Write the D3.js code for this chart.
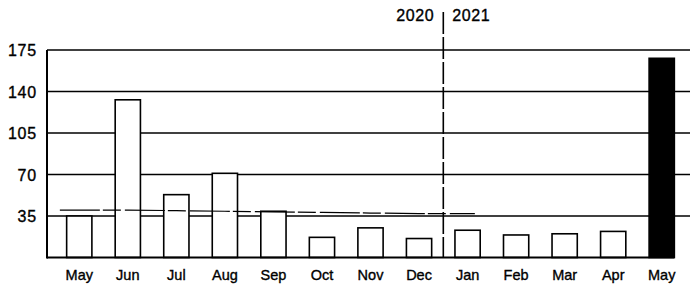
<!DOCTYPE html>
<html>
<head>
<meta charset="utf-8">
<script src="https://cdn.jsdelivr.net/npm/d3@7/dist/d3.min.js"></script>
<style>
  body { margin: 0; background: #fff; }
  svg { display: block; }
  text { font-family: "Liberation Sans", Arial, sans-serif; fill: #000; stroke: #000; stroke-width: 0.35px; }
</style>
</head>
<body>
<div id="chart"></div>
<script>
// monthly values, May 2020 .. May 2021
const months = ['May', 'Jun', 'Jul', 'Aug', 'Sep', 'Oct', 'Nov', 'Dec', 'Jan', 'Feb', 'Mar', 'Apr', 'May '];
const values = [35, 133, 53, 71, 39, 17, 25, 16, 23, 19, 20, 22, 168];
// thin trend line running over the 2020 months
const trendMonths = ['May', 'Jun', 'Jul', 'Aug', 'Sep', 'Oct', 'Nov', 'Dec', 'Jan'];
const trendValues = [40, 40, 39.5, 39, 38.5, 38, 37.5, 37, 37];
const yTicks = [35, 70, 105, 140, 175];
const yearLabels = ['2020', '2021'];

const width = 690;
const height = 289;

const svg = d3.select('#chart')
  .append('svg')
  .attr('width', width)
  .attr('height', height);

const x = d3.scaleBand()
  .domain(months)
  .range([55, 686])
  .paddingInner(0.48)
  .paddingOuter(0.24);

const y = d3.scaleLinear()
  .domain([0, 175])
  .range([257.5, 50]);

const left = 47;

// horizontal grid lines
svg.append('g')
  .selectAll('line')
  .data(yTicks)
  .enter().append('line')
  .attr('x1', left)
  .attr('x2', width)
  .attr('y1', d => y(d))
  .attr('y2', d => y(d))
  .attr('stroke', '#000')
  .attr('stroke-width', 1.6);

// y tick labels
svg.append('g')
  .selectAll('text')
  .data(yTicks)
  .enter().append('text')
  .attr('x', 37)
  .attr('y', d => y(d) + 6)
  .attr('text-anchor', 'end')
  .attr('font-size', 16)
  .attr('letter-spacing', 0.8)
  .text(d => d);

// bars
const last = months[months.length - 1];
svg.append('g')
  .selectAll('rect')
  .data(months)
  .enter().append('rect')
  .attr('x', d => x(d))
  .attr('width', x.bandwidth())
  .attr('y', (d, i) => y(values[i]))
  .attr('height', (d, i) => y(0) - y(values[i]))
  .attr('fill', d => d === last ? '#000' : '#fff')
  .attr('stroke', '#000')
  .attr('stroke-width', 1.6);

// trend line, drawn a little past the first and last month
const half = x.step() / 2;
const trendLine = d3.line()
  .x((d, i) => {
    const cx = x(trendMonths[i]) + x.bandwidth() / 2;
    if (i === 0) return cx - half * 0.8;
    if (i === trendValues.length - 1) return cx + half * 0.3;
    return cx;
  })
  .y(d => y(d));

svg.append('path')
  .datum(trendValues)
  .attr('d', trendLine)
  .attr('fill', 'none')
  .attr('stroke', '#000')
  .attr('stroke-width', 1.2)
  .attr('stroke-dasharray', '40,3,18,4');

// axes
svg.append('line')
  .attr('x1', left).attr('x2', left)
  .attr('y1', y(175)).attr('y2', y(0) + 1)
  .attr('stroke', '#000')
  .attr('stroke-width', 2);

svg.append('line')
  .attr('x1', left).attr('x2', x(last) + x.bandwidth())
  .attr('y1', y(0)).attr('y2', y(0))
  .attr('stroke', '#000')
  .attr('stroke-width', 2.2);

// month labels
svg.append('g')
  .selectAll('text')
  .data(months)
  .enter().append('text')
  .attr('x', d => x(d) + x.bandwidth() / 2)
  .attr('y', 280)
  .attr('text-anchor', 'middle')
  .attr('font-size', 14.5)
  .text(d => d.trim());

// year divider between Dec and Jan
const divX = (x('Dec') + x('Jan') + x.bandwidth()) / 2;
svg.append('line')
  .attr('x1', divX).attr('x2', divX)
  .attr('y1', 12).attr('y2', y(0))
  .attr('stroke', '#000')
  .attr('stroke-width', 1.6)
  .attr('stroke-dasharray', '22,3');

svg.append('text')
  .attr('x', divX - 9)
  .attr('y', 21)
  .attr('text-anchor', 'end')
  .attr('font-size', 16)
  .attr('letter-spacing', 0.6)
  .text(yearLabels[0]);

svg.append('text')
  .attr('x', divX + 9)
  .attr('y', 21)
  .attr('text-anchor', 'start')
  .attr('font-size', 16)
  .attr('letter-spacing', 0.6)
  .text(yearLabels[1]);
</script>
</body>
</html>
